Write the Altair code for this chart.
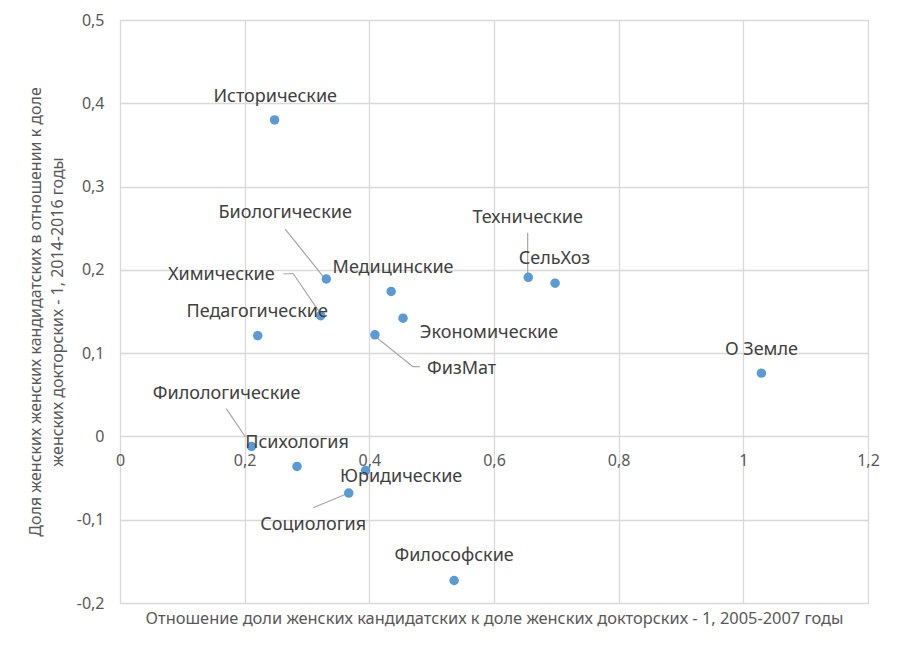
import altair as alt
import pandas as pd

# Scatter data
names = ["Исторические", "Биологические", "Медицинские", "Химические", "Экономические",
         "Педагогические", "ФизМат", "Филологические", "Психология", "Юридические",
         "Социология", "Философские", "Технические", "СельХоз", "О Земле"]
x_vals = [0.248, 0.331, 0.435, 0.322, 0.454, 0.221, 0.409, 0.211, 0.284, 0.394,
          0.367, 0.536, 0.655, 0.698, 1.029]
y_vals = [0.380, 0.189, 0.174, 0.145, 0.142, 0.121, 0.122, -0.012, -0.036, -0.041,
          -0.068, -0.173, 0.191, 0.184, 0.076]

# Label anchor positions (data units)
label_x = [0.249, 0.265, 0.438, 0.1625, 0.592, 0.220, 0.548, 0.171, 0.284, 0.451,
           0.310, 0.536, 0.654, 0.697, 1.029]
label_y = [0.4076, 0.2686, 0.2026, 0.194, 0.1245, 0.150, 0.0813, 0.0513, -0.0076, -0.0483,
           -0.106, -0.1433, 0.2625, 0.2133, 0.104]

# Leader lines (data units)
leader_name = ["Биологические", "Биологические",
               "Химические", "Химические", "Химические",
               "ФизМат", "ФизМат", "ФизМат",
               "Технические", "Технические",
               "Филологические", "Филологические",
               "Социология", "Социология"]
leader_x = [0.265, 0.326, 0.262, 0.278, 0.321, 0.412, 0.470, 0.481, 0.654, 0.654,
            0.1705, 0.201, 0.310, 0.364]
leader_y = [0.249, 0.192, 0.1953, 0.1953, 0.148, 0.1185, 0.0837, 0.0837, 0.2445, 0.1917,
            0.0333, -0.0004, -0.0856, -0.0688]
leader_order = [0, 1, 0, 1, 2, 0, 1, 2, 0, 1, 0, 1, 0, 1]

x_ticks = [0, 0.2, 0.4, 0.6, 0.8, 1.0, 1.2]
y_ticks = [-0.2, -0.1, 0, 0.1, 0.2, 0.3, 0.4, 0.5]

x_title = "Отношение доли женских кандидатских к доле женских докторских - 1, 2005-2007 годы"
y_title = ["Доля женских женских кандидатских в отношении к доле",
           "женских докторских - 1, 2014-2016 годы"]

pts = pd.DataFrame({"name": names, "x": x_vals, "y": y_vals})
lbl = pd.DataFrame({"name": names, "lx": label_x, "ly": label_y})
ldr = pd.DataFrame({"name": leader_name, "x": leader_x, "y": leader_y, "o": leader_order})

FONT = "Noto Sans"
W, H = 748, 583
y0_px = H * (0.5 - 0) / 0.7

label_expr = "replace(replace(format(datum.value, '.1~f'), '.', ','), '\u2212', '-')"

xscale = alt.Scale(domain=[0, 1.2], nice=False, zero=False)
yscale = alt.Scale(domain=[-0.2, 0.5], nice=False, zero=False)

xaxis = alt.Axis(values=x_ticks, labelExpr=label_expr, offset=-(H - y0_px),
                 domain=False, ticks=False, grid=True, gridColor="#d9d9d9", gridWidth=1.3,
                 labelFont=FONT, labelFontSize=16, labelColor="#595959", labelPadding=16,
                 labelFlush=False,
                 title=x_title, titleFont=FONT, titleFontSize=16.4, titleFontWeight="normal",
                 titleColor="#595959", titleY=H - y0_px + 15, titleBaseline="middle")
yaxis = alt.Axis(values=y_ticks, labelExpr=label_expr,
                 domain=False, ticks=False, grid=True, gridColor="#d9d9d9", gridWidth=1.3,
                 labelFont=FONT, labelFontSize=16, labelColor="#595959", labelPadding=16,
                 labelFlush=False,
                 title=y_title, titleFont=FONT, titleFontSize=16, titleFontWeight="normal",
                 titleColor="#595959", titleX=-85, titleY=H / 2, titleBaseline="middle",
                 titleAlign="center", titleAngle=270, titleLineHeight=22)

lines = alt.Chart(ldr).mark_line(color="#a6a6a6", strokeWidth=1.2).encode(
    x=alt.X("x:Q", scale=xscale, axis=xaxis),
    y=alt.Y("y:Q", scale=yscale, axis=yaxis),
    detail="name:N",
    order="o:Q",
)

points = alt.Chart(pts).mark_circle(size=90, color="#5B9BD5", opacity=1).encode(
    x=alt.X("x:Q", scale=xscale),
    y=alt.Y("y:Q", scale=yscale),
)

labels = alt.Chart(lbl).mark_text(font=FONT, fontSize=18, color="#404040",
                                  align="center", baseline="middle").encode(
    x=alt.X("lx:Q", scale=xscale),
    y=alt.Y("ly:Q", scale=yscale),
    text="name:N",
)

chart = alt.layer(lines, points, labels).properties(
    width=W, height=H,
    autosize=alt.AutoSizeParams(type="none"),
    padding={"left": 112, "top": 12, "right": 20, "bottom": 40},
).configure_view(stroke=None).configure(background="white")

chart.save("out.html", embed_options={"renderer": "svg", "actions": False})
